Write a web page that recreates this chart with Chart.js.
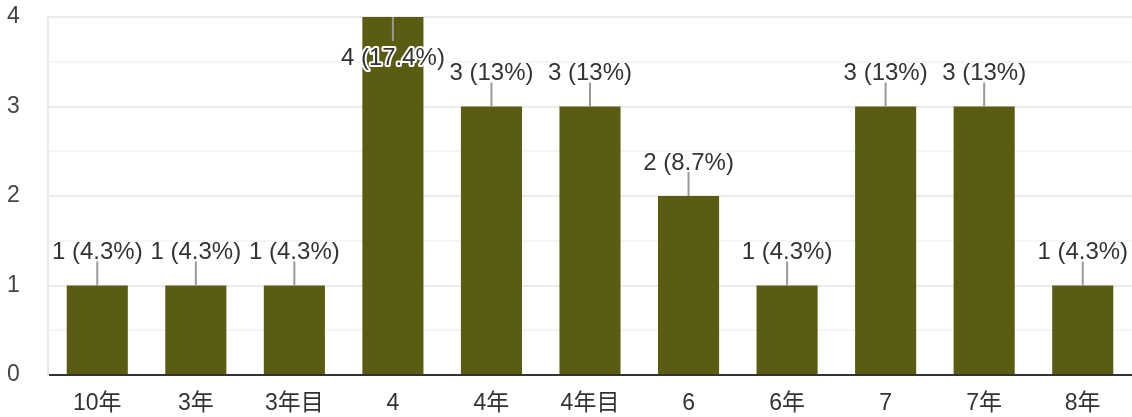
<!DOCTYPE html>
<html>
<head>
<meta charset="utf-8">
<script src="https://cdn.jsdelivr.net/npm/chart.js@4"></script>
<style>
  html, body { margin: 0; padding: 0; background: #fff; }
  #wrap { width: 1132px; height: 417px; }
</style>
</head>
<body>
<div id="wrap"><canvas id="chart" width="1132" height="417"></canvas></div>
<script>
const categories = ["10年", "3年", "3年目", "4", "4年", "4年目", "6", "6年", "7", "7年", "8年"];
const counts = [1, 1, 1, 4, 3, 3, 2, 1, 3, 3, 1];
const percents = ["4.3", "4.3", "4.3", "17.4", "13", "13", "8.7", "4.3", "13", "13", "4.3"];
const yMax = 4;

const FONT = "Arial, 'Liberation Sans', 'Noto Sans CJK JP', sans-serif";

// labels with a short leader line above each bar
const barLabels = {
  id: "barLabels",
  afterDatasetsDraw(chart) {
    const ctx = chart.ctx;
    const meta = chart.getDatasetMeta(0);
    ctx.save();
    ctx.font = "24px " + FONT;
    ctx.textAlign = "center";
    ctx.textBaseline = "middle";
    meta.data.forEach((bar, i) => {
      const txt = counts[i] + " (" + percents[i] + "%)";
      const x = bar.x, y = bar.y;
      ctx.strokeStyle = "#999";
      ctx.lineWidth = 2;
      ctx.beginPath();
      if (counts[i] >= yMax) {
        ctx.moveTo(x, y);
        ctx.lineTo(x, y + 24);
        ctx.stroke();
        ctx.lineWidth = 4;
        ctx.strokeStyle = "#fff";
        ctx.lineJoin = "round";
        ctx.strokeText(txt, x, y + 41);
        ctx.fillStyle = "#333";
        ctx.fillText(txt, x, y + 41);
      } else {
        ctx.moveTo(x, y - 24);
        ctx.lineTo(x, y);
        ctx.stroke();
        ctx.fillStyle = "#333";
        ctx.fillText(txt, x, y - 33);
      }
    });
    ctx.restore();
  }
};

new Chart(document.getElementById("chart"), {
  type: "bar",
  data: {
    labels: categories,
    datasets: [{
      data: counts,
      backgroundColor: "#5a5c12",
      barPercentage: 0.62,
      categoryPercentage: 1.0
    }]
  },
  options: {
    responsive: false,
    animation: false,
    layout: { padding: { top: 17, right: 0, left: 7, bottom: 0 } },
    plugins: { legend: { display: false }, tooltip: { enabled: false } },
    scales: {
      x: {
        grid: { display: false, drawTicks: false },
        border: { color: "#333", width: 2 },
        ticks: { color: "#333", font: { size: 23, family: FONT }, padding: 15 },
        afterFit(scale) { scale.height = 42; }
      },
      y: {
        min: 0,
        max: yMax,
        ticks: {
          stepSize: 0.5,
          color: "#444",
          font: { size: 23, family: FONT },
          padding: 0,
          crossAlign: "far",
          callback: v => Number.isInteger(v) ? v : ""
        },
        grid: {
          drawTicks: false,
          color: c => Number.isInteger(c.tick.value) ? "#ebebeb" : "#f5f5f5",
          lineWidth: 2
        },
        border: { color: "#ebebeb", width: 2 },
        afterFit(scale) { scale.width = 41; }
      }
    }
  },
  plugins: [barLabels]
});
</script>
</body>
</html>
